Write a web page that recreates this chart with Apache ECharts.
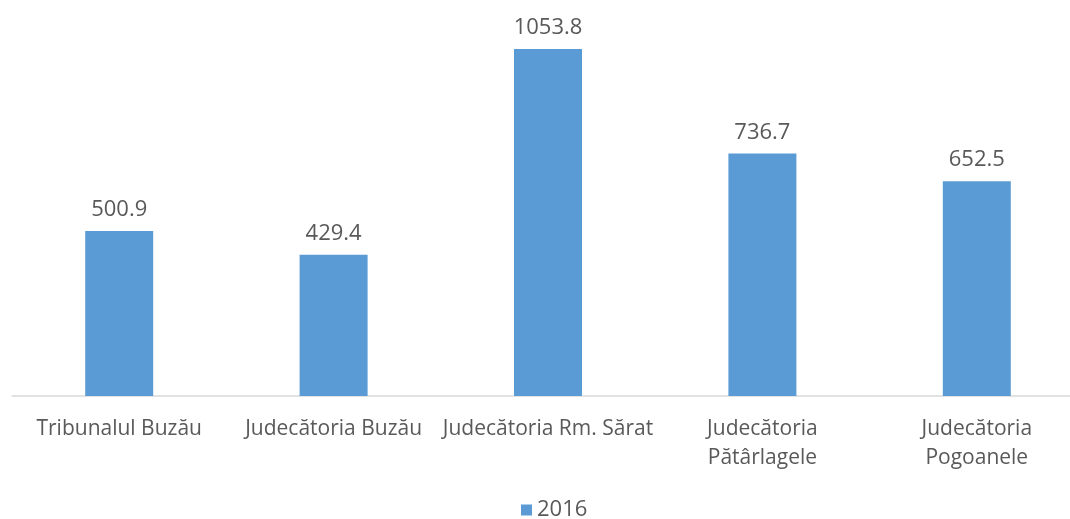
<!DOCTYPE html>
<html>
<head>
<meta charset="utf-8">
<script src="https://cdn.jsdelivr.net/npm/echarts@6/dist/echarts.min.js"></script>
<style>
  html, body { margin: 0; padding: 0; background: #fff; }
  #chart { width: 1070px; height: 519px; }
</style>
</head>
<body>
<div id="chart"></div>
<script>
// date
const categories = ['Tribunalul Buzău', 'Judecătoria Buzău', 'Judecătoria Rm. Sărat', 'Judecătoria\nPătârlagele', 'Judecătoria\nPogoanele'];
const seriesName = '2016';
const values = [500.9, 429.4, 1053.8, 736.7, 652.5];

let myChart = echarts.init(document.getElementById('chart'));

myChart.setOption({
  animation: false,
  grid: {
    left: 12,
    width: 1072,
    top: 1,
    bottom: 123,
    outerBoundsMode: 'none'
  },
  legend: {
    data: [seriesName],
    bottom: -7,
    left: 516,
    itemWidth: 11,
    itemHeight: 11,
    icon: 'rect',
    itemGap: 8,
    textStyle: { color: '#595959', fontSize: 22, fontFamily: 'Open Sans' }
  },
  xAxis: {
    type: 'category',
    data: categories,
    axisLine: { lineStyle: { color: '#d9d9d9', width: 1.5 } },
    axisTick: { show: false },
    axisLabel: {
      interval: 0,
      margin: 19,
      color: '#595959',
      fontSize: 21,
      lineHeight: 29,
      fontFamily: 'Open Sans'
    }
  },
  yAxis: {
    type: 'value',
    min: 0,
    max: 1200,
    show: false,
    splitLine: { show: false }
  },
  series: [{
    name: seriesName,
    type: 'bar',
    data: values,
    barWidth: 68,
    itemStyle: { color: '#5b9bd5' },
    label: {
      show: true,
      position: 'top',
      distance: 10,
      color: '#595959',
      fontSize: 22,
      fontFamily: 'Open Sans'
    }
  }]
});
</script>
</body>
</html>
